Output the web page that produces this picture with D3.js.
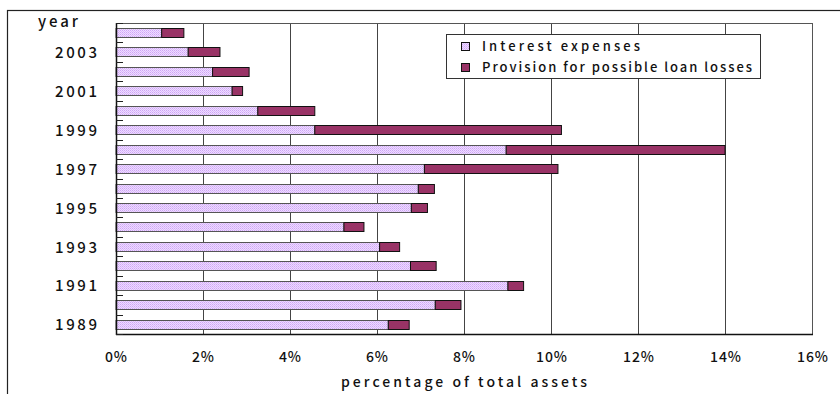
<!DOCTYPE html>
<meta charset="utf-8">
<style>
body { margin: 0; background: #fff; }
text {
  font-family: 'Noto Sans CJK JP', 'DejaVu Sans', sans-serif;
  font-weight: 500;
  fill: #111;
}
</style>
<body>
<script src="https://d3js.org/d3.v7.min.js"></script>
<script>
	// years from bottom (1989) to top (2004)
	var years = [1989, 1990, 1991, 1992, 1993, 1994, 1995, 1996,
	             1997, 1998, 1999, 2000, 2001, 2002, 2003, 2004];

	// percentage of total assets
	var interest  = [6.26, 7.34, 9.01, 6.77, 6.06, 5.24, 6.79, 6.95,
	                 7.09, 8.97, 4.57, 3.26, 2.67, 2.22, 1.66, 1.05];
	var provision = [0.48, 0.59, 0.36, 0.59, 0.46, 0.46, 0.37, 0.37,
	                 3.07, 5.03, 5.67, 1.31, 0.24, 0.84, 0.73, 0.51];

	var seriesNames = ["Interest expenses", "Provision for possible loan losses"];
	var xTicks = [0, 2, 4, 6, 8, 10, 12, 14, 16];
	var yLabels = [1989, 1991, 1993, 1995, 1997, 1999, 2001, 2003];

	var width = 840, height = 394;
	var plotLeft = 116, plotRight = 812, plotTop = 23, plotBottom = 334;

	var svg = d3.select("body").append("svg")
		.attr("width", width)
		.attr("height", height);

	// pattern for the interest bars
	var defs = svg.append("defs");
	var pat = defs.append("pattern")
		.attr("id", "dots")
		.attr("width", 2).attr("height", 2)
		.attr("patternUnits", "userSpaceOnUse");
	pat.append("rect").attr("width", 2).attr("height", 2).attr("fill", "#eedcff");
	pat.append("rect").attr("width", 1).attr("height", 1).attr("fill", "#cfa6f6");
	pat.append("rect").attr("x", 1).attr("y", 1).attr("width", 1).attr("height", 1).attr("fill", "#dbbafb");

	var colours = ["url(#dots)", "#993366"];

	// outer frame
	svg.append("rect")
		.attr("x", 7.5).attr("y", 10.5)
		.attr("width", 850).attr("height", 400)
		.attr("fill", "none")
		.style("stroke", "#222").style("stroke-width", 1.2);

	var x = d3.scaleLinear().domain([0, 16]).range([plotLeft, plotRight]);
	var y = d3.scaleBand()
		.domain(years.slice().reverse())
		.range([plotTop, plotBottom])
		.paddingInner(0.52)
		.paddingOuter(0.26);

	// vertical gridlines
	svg.append("g")
		.selectAll("line")
		.data(xTicks.slice(1, -1))
		.enter().append("line")
			.attr("x1", function(d) { return Math.round(x(d)) + 0.5; })
			.attr("x2", function(d) { return Math.round(x(d)) + 0.5; })
			.attr("y1", plotTop).attr("y2", plotBottom)
			.style("stroke", "#444").style("stroke-width", 1);

	// plot frame
	svg.append("rect")
		.attr("x", plotLeft + 0.5).attr("y", plotTop + 0.5)
		.attr("width", plotRight - plotLeft).attr("height", plotBottom - plotTop)
		.attr("fill", "none")
		.style("stroke", "#555").style("stroke-width", 1);

	// stacked bars
	var rows = years.map(function(yr, i) {
		return { year: yr, a: interest[i], b: provision[i] };
	});

	var bars = svg.append("g");
	rows.forEach(function(r) {
		var yy = Math.round(y(r.year)) + 0.5;
		var h = Math.round(y.bandwidth());
		bars.append("rect")
			.attr("x", x(0)).attr("y", yy)
			.attr("width", x(r.a) - x(0)).attr("height", h)
			.attr("fill", colours[0])
			.style("stroke", "#555").style("stroke-width", 1);
		bars.append("rect")
			.attr("x", x(r.a)).attr("y", yy)
			.attr("width", x(r.a + r.b) - x(r.a)).attr("height", h)
			.attr("fill", colours[1])
			.style("stroke", "#111").style("stroke-width", 1);
	});

	// category axis with inward ticks at band boundaries
	svg.append("line")
		.attr("x1", plotLeft + 0.5).attr("x2", plotLeft + 0.5)
		.attr("y1", plotTop).attr("y2", plotBottom + 1)
		.style("stroke", "#111").style("stroke-width", 1.5);
	svg.append("line")
		.attr("x1", plotLeft).attr("x2", plotRight + 1)
		.attr("y1", plotBottom + 0.5).attr("y2", plotBottom + 0.5)
		.style("stroke", "#111").style("stroke-width", 1.5);

	var step = (plotBottom - plotTop) / years.length;
	for (var i = 0; i <= years.length; i++) {
		var ty = Math.round(plotTop + step * i) + 0.5;
		svg.append("line")
			.attr("x1", plotLeft).attr("x2", plotLeft + 7)
			.attr("y1", ty).attr("y2", ty)
			.style("stroke", "#222").style("stroke-width", 1);
	}

	// year labels
	svg.append("g")
		.selectAll("text")
		.data(yLabels)
		.enter().append("text")
			.attr("x", 55)
			.attr("y", function(d) { return y(d) + y.bandwidth() / 2 + 6; })
			.attr("textLength", 42)
			.attr("lengthAdjust", "spacing")
			.style("font-size", "15px")
			.text(function(d) { return d; });

	svg.append("text")
		.attr("x", 38).attr("y", 27)
		.attr("textLength", 40)
		.attr("lengthAdjust", "spacing")
		.style("font-size", "15px")
		.text("year");

	// x tick labels
	svg.append("g")
		.selectAll("text")
		.data(xTicks)
		.enter().append("text")
			.attr("x", function(d) { return x(d) - (d < 10 ? 11 : 15); })
			.attr("y", 362)
			.attr("textLength", function(d) { return d < 10 ? 22 : 31; })
			.attr("lengthAdjust", "spacing")
			.style("font-size", "14px")
			.text(function(d) { return d + "%"; });

	svg.append("text")
		.attr("x", 341).attr("y", 387)
		.attr("textLength", 246)
		.attr("lengthAdjust", "spacing")
		.style("font-size", "14px")
		.text("percentage of total assets");

	// legend
	var legendWidths = [158, 270];
	var legend = svg.append("g");
	legend.append("rect")
		.attr("x", 446.5).attr("y", 34.5)
		.attr("width", 314).attr("height", 44)
		.attr("fill", "#fff")
		.style("stroke", "#333").style("stroke-width", 1);
	seriesNames.forEach(function(name, i) {
		var ly = 42 + i * 21;
		legend.append("rect")
			.attr("x", 461.5).attr("y", ly + 0.5)
			.attr("width", 8).attr("height", 8)
			.attr("fill", colours[i])
			.style("stroke", "#111").style("stroke-width", 1);
		legend.append("text")
			.attr("x", 482).attr("y", ly + 9)
			.attr("textLength", legendWidths[i])
			.attr("lengthAdjust", "spacing")
			.style("font-size", "13px")
			.text(name);
	});
</script>
</body>
